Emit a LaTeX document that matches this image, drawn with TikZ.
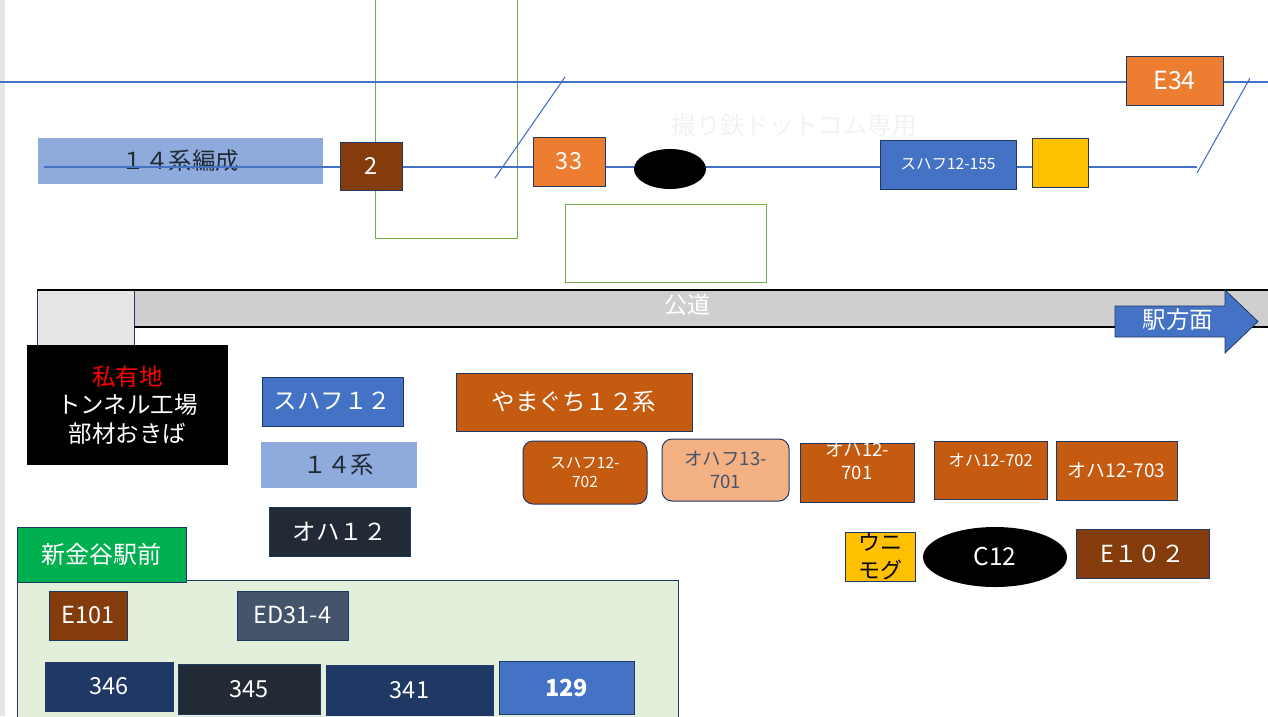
\documentclass[tikz,border=0pt]{standalone}
\usepackage{fontspec}
\setmainfont{Noto Sans CJK JP}
\usetikzlibrary{shapes.geometric}
\definecolor{trackblue}{HTML}{4472C4}
\definecolor{navyline}{HTML}{203864}
\definecolor{fenceGreen}{HTML}{70AD47}
\definecolor{paleBlue}{HTML}{8FAADC}
\definecolor{rustBrown}{HTML}{843C0C}
\definecolor{carOrange}{HTML}{ED7D31}
\definecolor{darkOrange}{HTML}{C55A11}
\definecolor{peach}{HTML}{F4B183}
\definecolor{carYellow}{HTML}{FFC000}
\definecolor{roadGray}{HTML}{D0CECE}
\definecolor{gateGray}{HTML}{E7E6E6}
\definecolor{darkSlate}{HTML}{222A35}
\definecolor{slate}{HTML}{44546A}
\definecolor{stationGreen}{HTML}{00B050}
\definecolor{yardGreen}{HTML}{E2EFDA}
\begin{document}
\begin{tikzpicture}[x=1pt, y=-1pt,
    carbox/.style={rectangle, draw=navyline, line width=1pt, inner sep=0pt, outer sep=0pt, text=white, align=center, font=\fontsize{23.5}{28}\selectfont},
    flatbox/.style={carbox, draw=none, text=darkSlate},
    cartext/.style={inner sep=0pt, outer sep=0pt, text=white, align=center},
    trackline/.style={draw=trackblue, line width=1.1pt},
    fenceline/.style={draw=fenceGreen, line width=1pt},
    roadline/.style={draw=black, line width=1.5pt},
]
\useasboundingbox (0,0) rectangle (1268,716);
\fill[gateGray] (0,0) rectangle (5,716);

\coordinate (topW) at (0,82);
\coordinate (topE) at (1268,82);
\coordinate (midW) at (44,167);
\coordinate (midE) at (1197,167);
\coordinate (slashA1) at (495,178);
\coordinate (slashA2) at (565,77);
\coordinate (slashB1) at (1197,173);
\coordinate (slashB2) at (1250,78);

\draw[fenceline] (375,0) -- (375,238) -- (517,238) -- (517,0);
\draw[fenceline] (565,204) rectangle (766,282);
\draw[trackline] (topW) -- (topE);

\node[flatbox, fill=paleBlue, minimum width=285, minimum height=46] (formation) at (180.5,161) {１４系編成};
\draw[trackline] (midW) -- (midE);
\draw[trackline] (slashA1) -- (slashA2);
\draw[trackline] (slashB1) -- (slashB2);

\node[text=black!5, font=\fontsize{24.5}{28}\selectfont] (mark) at (794,125) {撮り鉄ドットコム専用};

\node[carbox, fill=rustBrown, minimum width=62, minimum height=48] (unit2) at (371,166) {2};
\node[carbox, fill=carOrange, minimum width=72, minimum height=49] (unit33) at (569,161.5) {33};
\node[ellipse, fill=black, inner sep=0pt, minimum width=72, minimum height=40] (blob) at (670,169) {};
\node[carbox, fill=trackblue, minimum width=136, minimum height=49, font=\fontsize{15.5}{18}\selectfont] (suhafu155) at (948,164.5) {スハフ12-155};
\node[carbox, fill=carYellow, minimum width=56, minimum height=49] (yellowcar) at (1060,162.5) {};
\node[carbox, fill=carOrange, minimum width=97, minimum height=49, font=\fontsize{25}{28}\selectfont] (e34) at (1174.5,80.5) {E34};

\fill[roadGray] (134,290) rectangle (1270,327);
\filldraw[fill=gateGray, draw=navyline, line width=0.8pt] (37,290) rectangle (134,345);
\draw[roadline] (37,290) -- (1270,290);
\draw[roadline] (134,327) -- (1270,327);
\node[cartext, font=\fontsize{23}{27}\selectfont] (road) at (687,305) {公道};
\filldraw[fill=trackblue, draw=navyline, line width=0.8pt] (1115,306) -- (1225,306) -- (1225,290) -- (1258,321.5) -- (1225,353) -- (1225,337) -- (1115,337) -- cycle;
\node[cartext, font=\fontsize{23.5}{27}\selectfont] (station) at (1178,320) {駅方面};

\node[carbox, fill=black, draw=none, minimum width=201, minimum height=120, font=\fontsize{23.5}{28.5}\selectfont] (private) at (127.5,405) {\textcolor{red}{私有地}\\トンネル工場\\部材おきば};

\node[carbox, fill=trackblue, minimum width=141, minimum height=49] (suhafu12) at (332.5,401.5) {スハフ１２};
\node[flatbox, fill=paleBlue, minimum width=156, minimum height=46] (series14) at (339,465) {１４系};
\node[carbox, fill=darkSlate, minimum width=141, minimum height=49] (oha12) at (339.5,531.5) {オハ１２};

\node[carbox, fill=darkOrange, minimum width=236, minimum height=58] (yamaguchi) at (574,402) {やまぐち１２系};
\node[carbox, fill=darkOrange, rounded corners=10pt, minimum width=124, minimum height=63, font=\fontsize{15.5}{19.5}\selectfont] (suhafu702) at (585,472.5) {スハフ12-\\702};
\node[carbox, fill=peach, text=slate, rounded corners=10pt, minimum width=127, minimum height=62, font=\fontsize{18.5}{23}\selectfont] (ohafu701) at (725.5,470) {オハフ13-\\701};
\node[carbox, fill=darkOrange, minimum width=114, minimum height=59] (oha701) at (857,472.5) {};
\node[cartext, font=\fontsize{18.5}{23}\selectfont] (oha701t) at (857,460.5) {オハ12-\\701};
\node[carbox, fill=darkOrange, minimum width=113, minimum height=58] (oha702) at (990.5,470) {};
\node[cartext, font=\fontsize{16.5}{19}\selectfont] (oha702t) at (990.5,460) {オハ12-702};
\node[carbox, fill=darkOrange, minimum width=121, minimum height=59, font=\fontsize{19}{22}\selectfont] (oha703) at (1116.5,470.5) {オハ12-703};

\node[carbox, fill=carYellow, text=black, minimum width=70, minimum height=49, font=\fontsize{22}{28}\selectfont] (unimog) at (880,556.5) {ウニ\\モグ};
\node[ellipse, fill=black, text=white, inner sep=0pt, minimum width=144, minimum height=60, font=\fontsize{24.5}{27}\selectfont] (c12) at (995,557) {C12};
\node[carbox, fill=rustBrown, minimum width=133, minimum height=49] (e102) at (1142.5,553.5) {E１０２};

\filldraw[fill=yardGreen, draw=navyline, line width=0.8pt] (17,580) rectangle (678,722);
\node[carbox, fill=stationGreen, minimum width=169, minimum height=55, font=\fontsize{24}{28}\selectfont] (shinkanaya) at (101.5,554.5) {新金谷駅前};

\node[carbox, fill=rustBrown, minimum width=78, minimum height=49] (e101) at (88,615.5) {E101};
\node[carbox, fill=slate, minimum width=111, minimum height=49] (ed31) at (292.5,615.5) {ED31-4};
\node[carbox, fill=navyline, minimum width=128, minimum height=49] (c346) at (109,686.5) {346};
\node[carbox, fill=darkSlate, minimum width=142, minimum height=50] (c345) at (249,689) {345};
\node[carbox, fill=navyline, minimum width=167, minimum height=50] (c341) at (409.5,690) {341};
\node[carbox, fill=trackblue, minimum width=135, minimum height=53, font=\fontsize{23.5}{27}\selectfont\bfseries] (c129) at (566.5,687.5) {129};
\end{tikzpicture}
\end{document}
